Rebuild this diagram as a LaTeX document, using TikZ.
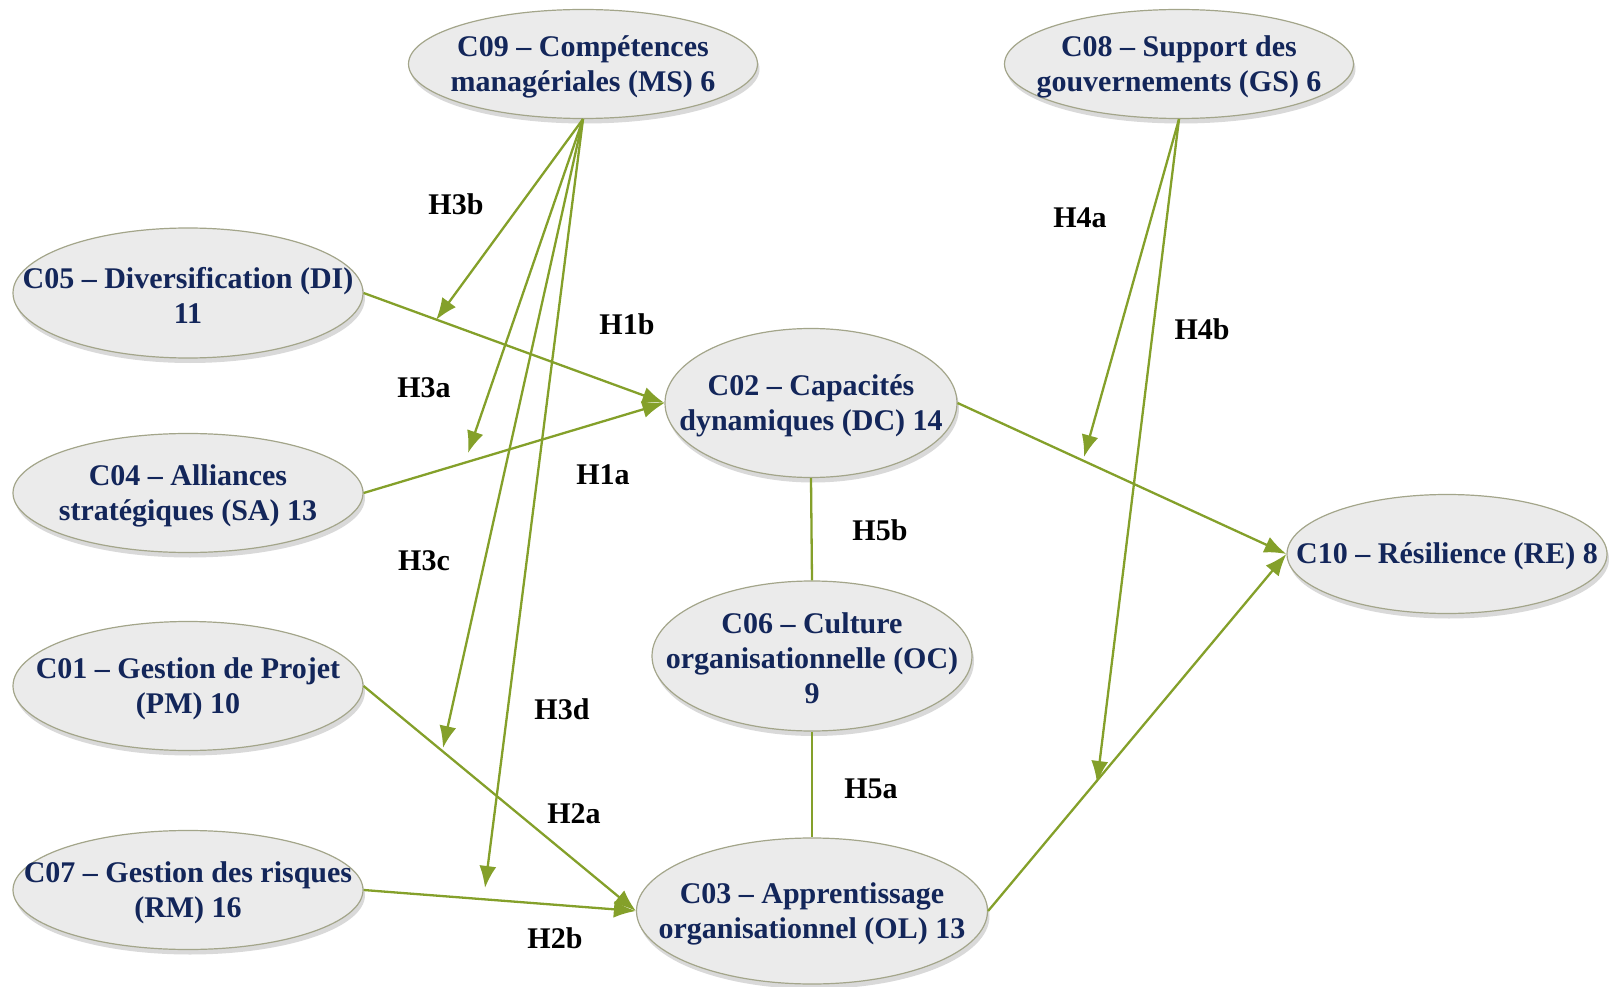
\documentclass[tikz,border=0pt]{standalone}
\usepackage{fontspec}
\setmainfont{Liberation Serif}
\usetikzlibrary{shapes.geometric,shadows,arrows.meta}
\definecolor{navy}{HTML}{13265A}
\definecolor{olivearrow}{HTML}{84A02A}
\definecolor{ellborder}{HTML}{A3A58A}
\definecolor{ellfill}{HTML}{EBEBEB}
\begin{document}
\begin{tikzpicture}[x=1pt,y=-1pt,
  ell/.style={ellipse, draw=ellborder, line width=1.2pt, fill=ellfill, inner sep=0pt,
    drop shadow={shadow xshift=2pt,shadow yshift=-5pt,opacity=0.25,fill=black!60}},
  txt/.style={font=\bfseries\fontsize{30}{35}\selectfont, text=navy, align=center, inner sep=0pt, yshift=-2.5pt},
  lab/.style={font=\bfseries\fontsize{30}{35}\selectfont, text=black, inner sep=0pt},
  arr/.style={draw=olivearrow, line width=2.3pt, -{Latex[length=22pt,width=17pt]}},
  lnk/.style={draw=olivearrow, line width=2.3pt}]
\useasboundingbox (0,0) rectangle (1610,987);

% ellipses
\node[ell, minimum width=349, minimum height=109] (c09) at (583,64) {};
\node[ell, minimum width=349, minimum height=109] (c08) at (1179,64) {};
\node[ell, minimum width=350, minimum height=130] (c05) at (188,293) {};
\node[ell, minimum width=350, minimum height=119] (c04) at (188,493) {};
\node[ell, minimum width=350, minimum height=129] (c01) at (188,686) {};
\node[ell, minimum width=350, minimum height=119] (c07) at (188,890) {};
\node[ell, minimum width=292, minimum height=149] (c02) at (811,403) {};
\node[ell, minimum width=320, minimum height=150] (c06) at (812,656) {};
\node[ell, minimum width=351, minimum height=146] (c03) at (812,911) {};
\node[ell, minimum width=320, minimum height=119] (c10) at (1447,554) {};

% texts
\node[txt] (t09) at (c09) {C09 – Compétences\\managériales (MS) 6};
\node[txt] (t08) at (c08) {C08 – Support des\\gouvernements (GS) 6};
\node[txt] (t05) at (c05) {C05 – Diversification (DI)\\11};
\node[txt] (t04) at (c04) {C04 – Alliances\\stratégiques (SA) 13};
\node[txt] (t01) at (c01) {C01 – Gestion de Projet\\(PM) 10};
\node[txt] (t07) at (c07) {C07 – Gestion des risques\\(RM) 16};
\node[txt] (t02) at (c02) {C02 – Capacités\\dynamiques (DC) 14};
\node[txt] (t06) at (c06) {C06 – Culture\\organisationnelle (OC)\\9};
\node[txt] (t03) at (c03) {C03 – Apprentissage\\organisationnel (OL) 13};
\node[txt] (t10) at (c10) {C10 – Résilience (RE) 8};

% free ends
\coordinate (e3b) at (436,320);
\coordinate (e3a) at (468,453);
\coordinate (e3c) at (443,748);
\coordinate (e3d) at (485,888);
\coordinate (e4a) at (1084,457);
\coordinate (e4b) at (1097,783);

% connectors
\draw[arr] (c09.south) -- (e3b);
\draw[arr] (c09.south) -- (e3a);
\draw[arr] (c09.south) -- (e3c);
\draw[arr] (c09.south) -- (e3d);
\draw[arr] (c08.south) -- (e4a);
\draw[arr] (c08.south) -- (e4b);
\draw[arr] (c05.east) -- (c02.west);
\draw[arr] (c04.east) -- (c02.west);
\draw[arr] (c02.east) -- (c10.west);
\draw[arr] (c03.east) -- (c10.west);
\draw[arr] (c01.east) -- (c03.west);
\draw[arr] (c07.east) -- (c03.west);
\draw[lnk] (c02.south) -- (c06.north);
\draw[lnk] (c06.south) -- (c03.north);

% labels
\node[lab] (h3b) at (456,204) {H3b};
\node[lab] (h1b) at (627,324) {H1b};
\node[lab] (h3a) at (424,388) {H3a};
\node[lab] (h1a) at (603,475) {H1a};
\node[lab] (h3c) at (424,561) {H3c};
\node[lab] (h3d) at (562,709) {H3d};
\node[lab] (h2a) at (574,814) {H2a};
\node[lab] (h2b) at (555,938) {H2b};
\node[lab] (h4a) at (1080,218) {H4a};
\node[lab] (h4b) at (1202,329) {H4b};
\node[lab] (h5b) at (880,530) {H5b};
\node[lab] (h5a) at (871,789) {H5a};
\end{tikzpicture}
\end{document}
